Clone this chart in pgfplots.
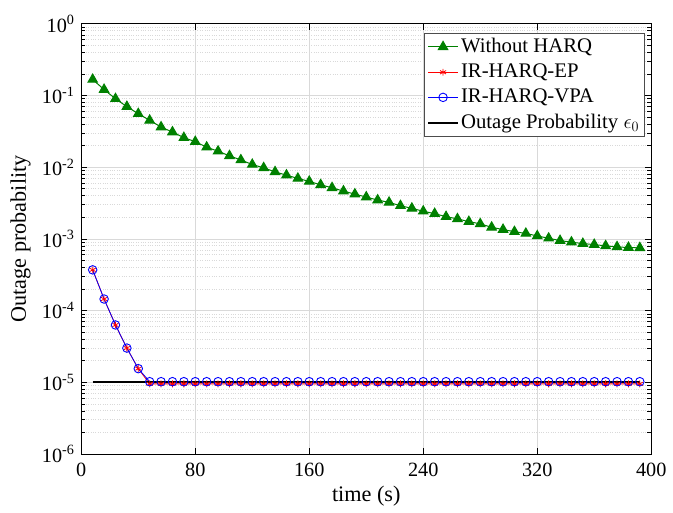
\documentclass[border=0pt]{standalone}
\usepackage{pgfplots}
\pgfplotsset{compat=1.18}
\usepackage{fontspec}
\setmainfont{Liberation Serif}
\definecolor{mgreen}{rgb}{0,0.5,0}
\definecolor{mgrid}{rgb}{0.85,0.85,0.85}
\begin{document}
\fontsize{20}{24}\selectfont
\begin{tikzpicture}
\begin{axis}[
  scale only axis,
  width=575bp, height=434bp,
  xmin=0, xmax=400, ymin=1e-6, ymax=1,
  ymode=log,
  xtick={0,80,160,240,320,400},
  ytick={1e-6,1e-5,1e-4,1e-3,1e-2,1e-1,1},
  yticklabels={10\textsuperscript{-6},10\textsuperscript{-5},10\textsuperscript{-4},10\textsuperscript{-3},10\textsuperscript{-2},10\textsuperscript{-1},10\textsuperscript{0}},
  /pgf/number format/assume math mode=true,
  tick label style={font=\fontsize{20.5}{24}\selectfont},
  xticklabel style={yshift=-2bp},
  label style={font=\fontsize{22.5}{26}\selectfont},
  xlabel={time (s)},
  ylabel={Outage probability},
  xlabel style={yshift=4bp},
  ylabel style={yshift=-2bp},
  tick align=inside,
  major tick length=6bp, minor tick length=4bp,
  tick style={black, line width=0.6pt},
  axis line style={black, line width=0.8pt},
  grid=both,
  major grid style={mgrid, line width=0.7pt},
  minor y grid style={mgrid, dotted, line width=0.7pt},
  minor x grid style={draw=none},
  legend cell align=left,
  legend style={at={(axis description cs:0.988,0.979)}, anchor=north east,
    font=\fontsize{21}{25}\selectfont, draw=black!70, line width=0.8pt,
    inner sep=3bp, row sep=4.5bp},
  legend image code/.code={
    \draw[mark repeat=2, mark phase=2, #1] plot coordinates {(0bp,0bp) (15bp,0bp) (30bp,0bp)};
  },
]
\addplot[mgreen, line width=1pt, mark=triangle*, mark size=5.5bp, mark options={fill=mgreen, draw=mgreen}] coordinates {
(8,0.167)(16,0.121)(24,0.090)(32,0.070)(40,0.0557)(48,0.045)(56,0.0363)(64,0.0309)
(72,0.0258)(80,0.0227)(88,0.0190)(96,0.0167)(104,0.0144)(112,0.0126)(120,0.0109)
(128,0.0098)(136,0.0086)(144,0.00774)(152,0.00697)(160,0.00633)(168,0.00568)
(176,0.00516)(184,0.00464)(192,0.00421)(200,0.00383)(208,0.00348)(216,0.00323)
(224,0.00290)(232,0.00267)(240,0.00243)(248,0.00225)(256,0.00204)(264,0.00190)
(272,0.00174)(280,0.00162)(288,0.00145)(296,0.00135)(304,0.00126)(312,0.00119)
(320,0.00110)(328,0.00102)(336,0.000946)(344,0.000900)(352,0.000860)(360,0.000833)
(368,0.000799)(376,0.000774)(384,0.000757)(392,0.000750)};
\addlegendentry{Without HARQ}
\addplot[red, line width=0.8pt, mark=asterisk, mark size=3.5bp, mark options={line width=0.8pt}] coordinates {
(8,3.7e-4)(16,1.45e-4)(24,6.3e-5)(32,3.0e-5)(40,1.55e-5)(48,0.95e-5)(56,0.95e-5)(64,0.95e-5)
(72,0.95e-5)(80,0.95e-5)(88,0.95e-5)(96,0.95e-5)(104,0.95e-5)(112,0.95e-5)(120,0.95e-5)
(128,0.95e-5)(136,0.95e-5)(144,0.95e-5)(152,0.95e-5)(160,0.95e-5)(168,0.95e-5)
(176,0.95e-5)(184,0.95e-5)(192,0.95e-5)(200,0.95e-5)(208,0.95e-5)(216,0.95e-5)
(224,0.95e-5)(232,0.95e-5)(240,0.95e-5)(248,0.95e-5)(256,0.95e-5)(264,0.95e-5)
(272,0.95e-5)(280,0.95e-5)(288,0.95e-5)(296,0.95e-5)(304,0.95e-5)(312,0.95e-5)
(320,0.95e-5)(328,0.95e-5)(336,0.95e-5)(344,0.95e-5)(352,0.95e-5)(360,0.95e-5)
(368,0.95e-5)(376,0.95e-5)(384,0.95e-5)(392,0.95e-5)};
\addlegendentry{IR-HARQ-EP}
\addplot[blue, line width=0.8pt, mark=o, mark size=4.3bp, mark options={line width=0.9pt}] coordinates {
(8,3.7e-4)(16,1.45e-4)(24,6.3e-5)(32,3.0e-5)(40,1.55e-5)(48,1.02e-5)(56,1.02e-5)(64,1.02e-5)
(72,1.02e-5)(80,1.02e-5)(88,1.02e-5)(96,1.02e-5)(104,1.02e-5)(112,1.02e-5)(120,1.02e-5)
(128,1.02e-5)(136,1.02e-5)(144,1.02e-5)(152,1.02e-5)(160,1.02e-5)(168,1.02e-5)
(176,1.02e-5)(184,1.02e-5)(192,1.02e-5)(200,1.02e-5)(208,1.02e-5)(216,1.02e-5)
(224,1.02e-5)(232,1.02e-5)(240,1.02e-5)(248,1.02e-5)(256,1.02e-5)(264,1.02e-5)
(272,1.02e-5)(280,1.02e-5)(288,1.02e-5)(296,1.02e-5)(304,1.02e-5)(312,1.02e-5)
(320,1.02e-5)(328,1.02e-5)(336,1.02e-5)(344,1.02e-5)(352,1.02e-5)(360,1.02e-5)
(368,1.02e-5)(376,1.02e-5)(384,1.02e-5)(392,1.02e-5)};
\addlegendentry{IR-HARQ-VPA}
\addplot[black, line width=2.4pt] coordinates {(8,1e-5)(392,1e-5)};
\addlegendentry{Outage Probability $\epsilon_0$}
\end{axis}
\path (current axis.south west) ++(-82bp,-57bp) coordinate (bbA);
\path (current axis.north east) ++(16bp,24bp) coordinate (bbB);
\useasboundingbox (bbA) rectangle (bbB);
\end{tikzpicture}
\end{document}
